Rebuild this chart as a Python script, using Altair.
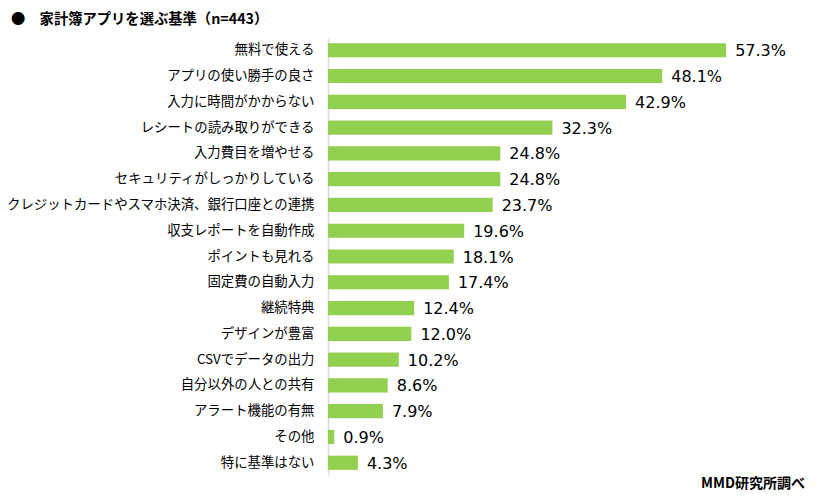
import altair as alt
import pandas as pd

categories = [
    "無料で使える", "アプリの使い勝手の良さ", "入力に時間がかからない", "レシートの読み取りができる",
    "入力費目を増やせる", "セキュリティがしっかりしている", "クレジットカードやスマホ決済、銀行口座との連携",
    "収支レポートを自動作成", "ポイントも見れる", "固定費の自動入力", "継続特典", "デザインが豊富",
    "CSVでデータの出力", "自分以外の人との共有", "アラート機能の有無", "その他", "特に基準はない",
]
values = [57.3, 48.1, 42.9, 32.3, 24.8, 24.8, 23.7, 19.6, 18.1, 17.4, 12.4, 12.0, 10.2, 8.6, 7.9, 0.9, 4.3]
title_text = "●　家計簿アプリを選ぶ基準（n=443）"
source_text = "MMD研究所調べ"

df = pd.DataFrame({"cat": categories, "val": values})
df["label"] = df["val"].map(lambda v: f"{v:.1f}%")

W, H = 469, 437

y_enc = alt.Y("cat:N", sort=categories,
              scale=alt.Scale(paddingInner=0.45, paddingOuter=0.2),
              axis=alt.Axis(title=None, ticks=False, domain=True, domainColor="#D9D9D9",
                            domainWidth=1.5, labelFont="Noto Sans CJK JP", labelFontSize=13.4,
                            labelColor="#000000", labelPadding=14, labelLimit=400))
x_enc = alt.X("val:Q", scale=alt.Scale(domain=[0, 67.5], nice=False),
              axis=None)

base = alt.Chart(df)
bars = base.mark_bar(color="#92D050").encode(x=x_enc, y=y_enc)
labels = base.mark_text(align="left", baseline="middle", dx=9, dy=1, font="DejaVu Sans",
                        fontSize=16, color="#000000").encode(x=x_enc, y=y_enc, text="label:N")

src = alt.Chart(pd.DataFrame({"t": [source_text]})).mark_text(
    align="right", baseline="middle", font="Noto Sans CJK JP", fontSize=14,
    fontWeight="bold", color="#000000").encode(x=alt.value(477), y=alt.value(446), text="t:N")

chart = alt.layer(bars, labels, src).properties(
    width=W, height=H,
    background="white",
    title=alt.TitleParams(text=title_text, anchor="start", frame="group", orient="top",
                          dx=-317, offset=4, baseline="middle", font="Noto Sans CJK JP",
                          fontSize=14.3, fontWeight="bold", color="#000000"),
    autosize=alt.AutoSizeParams(type="none"),
    padding={"left": 320, "top": 30, "right": 12, "bottom": 20},
).configure_view(strokeWidth=0, stroke="transparent")

chart.save("out.html", embed_options={"renderer": "svg", "actions": False})
